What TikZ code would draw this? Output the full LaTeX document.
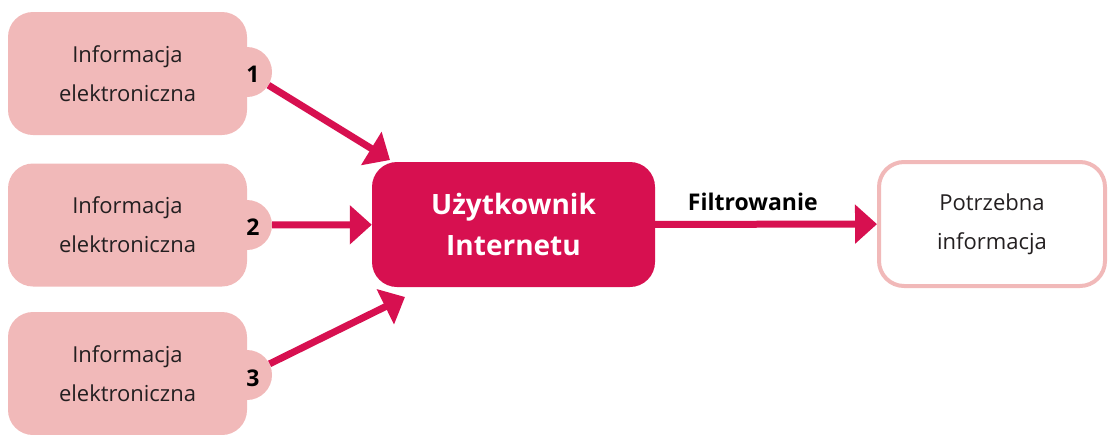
\documentclass[tikz,border=0pt]{standalone}
\usepackage{fontspec}
\setmainfont{Open Sans}
\usetikzlibrary{arrows.meta}
\definecolor{lpink}{HTML}{F1B9B9}
\definecolor{mag}{HTML}{D71050}
\definecolor{txt}{HTML}{231F20}
\begin{document}
\begin{tikzpicture}[x=1pt,y=-1pt,
  srcbox/.style={fill=lpink, draw=none, rounded corners=25pt, minimum width=239pt, minimum height=123pt, align=center, text=txt, font=\fontsize{22}{39}\selectfont},
  bump/.style={circle, fill=lpink, draw=none, minimum size=50pt, inner sep=0pt},
  numlbl/.style={font=\fontsize{23}{24}\selectfont\bfseries, text=black, inner sep=0pt},
  userbox/.style={fill=mag, draw=none, rounded corners=25pt, minimum width=283pt, minimum height=125pt, align=center, text=white, font=\fontsize{28}{41}\selectfont\bfseries},
  tgtbox/.style={fill=white, draw=lpink, line width=4pt, rounded corners=25pt, minimum width=226pt, minimum height=124pt, align=center, text=txt, font=\fontsize{22}{39}\selectfont},
  flow/.style={draw=mag, line width=7pt, -{Triangle[length=22pt,width=38pt]}}
]
\useasboundingbox (0,0) rectangle (1108,434);
\node[srcbox] (b1) at (127.5,73.5) {Informacja\\elektroniczna};
\node[srcbox] (b2) at (127.5,225) {Informacja\\elektroniczna};
\node[srcbox] (b3) at (127.5,373.5) {Informacja\\elektroniczna};
\node[bump] (c1) at (247,72) {};
\node[bump] (c2) at (247,225) {};
\node[bump] (c3) at (247,375) {};
\node[numlbl] (n1) at (253,74) {1};
\node[numlbl] (n2) at (253,227) {2};
\node[numlbl] (n3) at (253,378) {3};
\node[userbox] (user) at (513.5,224.5) {Użytkownik\\Internetu};
\node[tgtbox] (tgt) at (992,224) {Potrzebna\\informacja};
\coordinate (t1) at (390,160);
\coordinate (t3) at (405,297);
\draw[flow] (c1) -- (t1);
\draw[flow] (c2) -- (user);
\draw[flow] (c3) -- (t3);
\draw[flow] (user) -- node[pos=0.44, above=7pt, font=\fontsize{23}{24}\selectfont\bfseries, text=black, draw=none] (filt) {Filtrowanie} (tgt);
\end{tikzpicture}
\end{document}
